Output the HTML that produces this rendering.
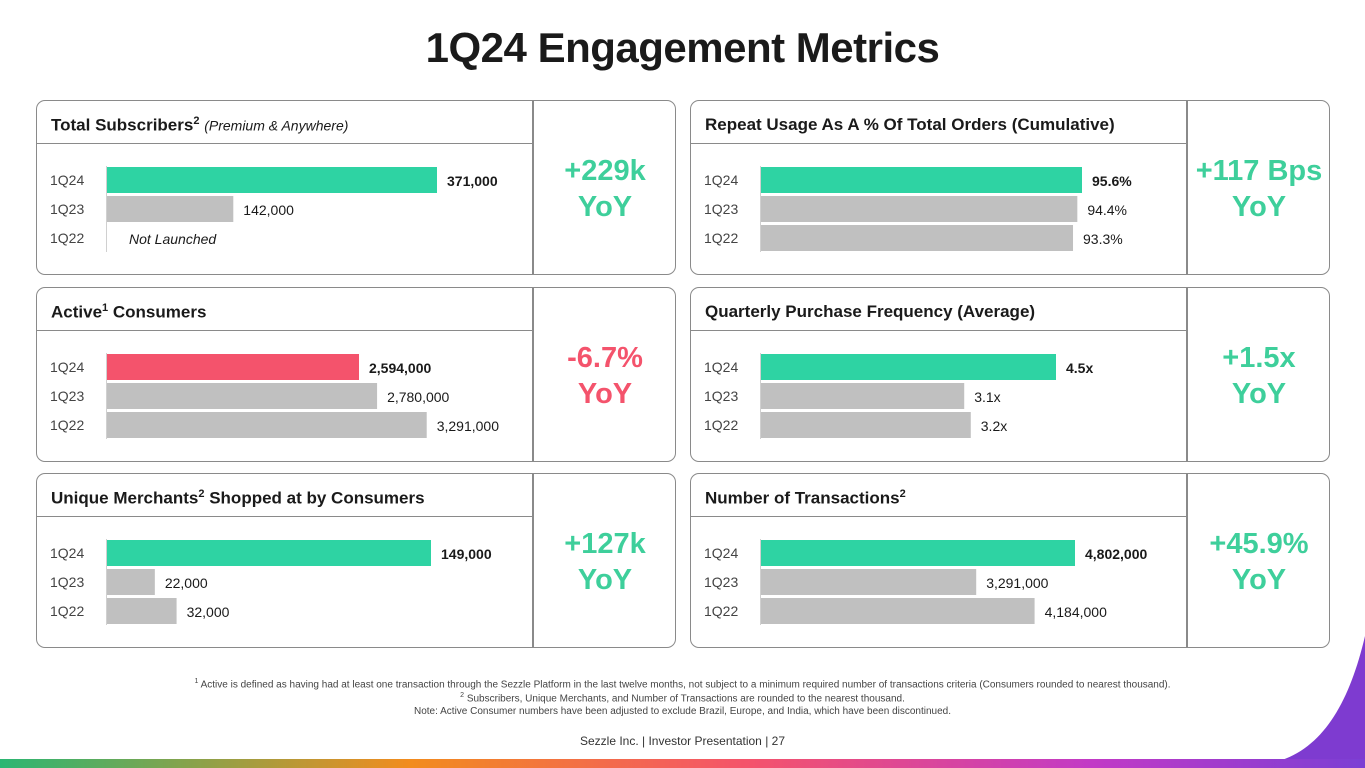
<!DOCTYPE html>
<html><head><meta charset="utf-8">
<style>
body{margin:0;width:1365px;height:768px;overflow:hidden;background:#fff;font-family:"Liberation Sans",sans-serif;position:relative;color:#1a1a1a}
#title{position:absolute;left:0;width:1365px;top:24px;text-align:center;font-size:42px;font-weight:bold;letter-spacing:-0.5px;color:#1a1a1a}
.panel{position:absolute;width:640px;height:175px;border:1.5px solid #8a8a8a;border-radius:9px;box-sizing:border-box}
.hdr{position:absolute;left:0;top:0;width:496px;height:43px;border-bottom:1.5px solid #8a8a8a;box-sizing:border-box;font-weight:bold;font-size:17px;padding:14px 0 0 14px}
.hdr sup{font-size:11px}
.hdr i{font-weight:normal;font-size:14px}
.div{position:absolute;left:495px;top:0;width:1.5px;height:100%;background:#8a8a8a}
.big{position:absolute;left:497px;width:142px;top:52px;text-align:center;font-size:29px;font-weight:bold;line-height:36px}
.foot{position:absolute;left:0;width:1365px;text-align:center;font-size:10px;color:#444}
svg text{font-family:"Liberation Sans",sans-serif}
</style></head><body>
<div id="title">1Q24 Engagement Metrics</div>

<div class="panel" style="left:36px;top:100px"><div class="hdr">Total Subscribers<sup>2</sup> <i>(Premium &amp; Anywhere)</i></div><div class="div"></div><div class="big" style="color:#3ecf9b">+229k<br>YoY</div></div>
<div class="panel" style="left:690px;top:100px"><div class="hdr">Repeat Usage As A % Of Total Orders (Cumulative)</div><div class="div"></div><div class="big" style="color:#3ecf9b">+117 Bps<br>YoY</div></div>
<div class="panel" style="left:36px;top:287px"><div class="hdr">Active<sup>1</sup> Consumers</div><div class="div"></div><div class="big" style="color:#f4536c">-6.7%<br>YoY</div></div>
<div class="panel" style="left:690px;top:287px"><div class="hdr">Quarterly Purchase Frequency (Average)</div><div class="div"></div><div class="big" style="color:#3ecf9b">+1.5x<br>YoY</div></div>
<div class="panel" style="left:36px;top:473px"><div class="hdr">Unique Merchants<sup>2</sup> Shopped at by Consumers</div><div class="div"></div><div class="big" style="color:#3ecf9b">+127k<br>YoY</div></div>
<div class="panel" style="left:690px;top:473px"><div class="hdr">Number of Transactions<sup>2</sup></div><div class="div"></div><div class="big" style="color:#3ecf9b">+45.9%<br>YoY</div></div>

<svg id="charts" width="1365" height="768" style="position:absolute;left:0;top:0"></svg>

<div class="foot" style="top:678px"><sup style="font-size:7px">1</sup> Active is defined as having had at least one transaction through the Sezzle Platform in the last twelve months, not subject to a minimum required number of transactions criteria (Consumers rounded to nearest thousand).</div>
<div class="foot" style="top:692px"><sup style="font-size:7px">2</sup> Subscribers, Unique Merchants, and Number of Transactions are rounded to the nearest thousand.</div>
<div class="foot" style="top:706px">Note: Active Consumer numbers have been adjusted to exclude Brazil, Europe, and India, which have been discontinued.</div>
<div class="foot" style="top:734px;font-size:12px;color:#333">Sezzle Inc. | Investor Presentation | 27</div>

<svg width="1365" height="768" style="position:absolute;left:0;top:0;pointer-events:none">
<defs><linearGradient id="g" x1="0" x2="1"><stop offset="0" stop-color="#2bb673"/><stop offset="0.3" stop-color="#f28c1e"/><stop offset="0.55" stop-color="#f4536c"/><stop offset="0.8" stop-color="#c23ac6"/><stop offset="1" stop-color="#7b3fd4"/></linearGradient></defs>
<path d="M1365 636 C1350 700 1325 745 1282 760 L1365 760 Z" fill="#7e3bd0"/>
<rect x="0" y="759" width="1365" height="9" fill="url(#g)"/>
</svg>

<script>
const quarters = ["1Q24","1Q23","1Q22"];
const subscribers = [371000, 142000, null];
const subscriberLabels = ["371,000","142,000","Not Launched"];
const repeatUsage = [95.6, 94.4, 93.3];
const repeatLabels = ["95.6%","94.4%","93.3%"];
const activeConsumers = [2594000, 2780000, 3291000];
const activeLabels = ["2,594,000","2,780,000","3,291,000"];
const frequency = [4.5, 3.1, 3.2];
const frequencyLabels = ["4.5x","3.1x","3.2x"];
const merchants = [149000, 22000, 32000];
const merchantLabels = ["149,000","22,000","32,000"];
const transactions = [4802000, 3291000, 4184000];
const transactionLabels = ["4,802,000","3,291,000","4,184,000"];

const NS="http://www.w3.org/2000/svg";
const svg=document.getElementById('charts');
function mk(t,a){const e=document.createElementNS(NS,t);for(const k in a)e.setAttribute(k,a[k]);svg.appendChild(e);return e;}
function chart(px,py,vals,labels,d0,d1,w1,topColor,name){
  const x0=px+71;
  const sx=v=>(v-d0)/(d1-d0)*w1;
  const ax=mk('line',{x1:x0-0.5,x2:x0-0.5,y1:py+66,y2:py+152,stroke:'#d0d0d0','stroke-width':1});
  
  
  quarters.forEach((q,i)=>{
    const y=py+67+i*29;
    const t=mk('text',{x:px+14,y:y+18,'font-size':14,fill:'#444'});t.textContent=q;
    
    
    let w=0;
    if(vals[i]!==null){
      w=sx(vals[i]);
      const r=mk('rect',{x:x0,y:y,width:w,height:26,fill:i===0?topColor:'#c0c0c0'});
      
      
    }
    const lt=mk('text',{x:vals[i]===null?x0+22:x0+w+10,y:y+19,'font-size':14,fill:'#1a1a1a','font-weight':i===0?'bold':'normal','font-style':vals[i]===null?'italic':'normal'});
    lt.textContent=labels[i];
    
    
  });
}
chart(36,100,subscribers,subscriberLabels,0,371000,330,'#2ed3a3','subscribers');
chart(36,287,activeConsumers,activeLabels,0,2594000,252,'#f4536c','active-consumers');
chart(36,473,merchants,merchantLabels,0,149000,324,'#2ed3a3','merchants');
chart(690,100,repeatUsage,repeatLabels,13.3,95.6,321,'#2ed3a3','repeat-usage');
chart(690,287,frequency,frequencyLabels,0,4.5,295,'#2ed3a3','frequency');
chart(690,473,transactions,transactionLabels,0,4802000,314,'#2ed3a3','transactions');
</script>
</body></html>
